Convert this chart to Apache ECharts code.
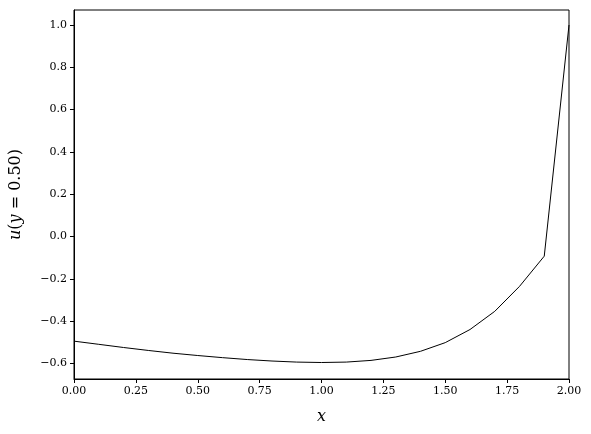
<!DOCTYPE html>
<html>
<head>
<meta charset="utf-8">
<script src="https://cdn.jsdelivr.net/npm/echarts@6/dist/echarts.min.js"></script>
<style>
  html, body { margin: 0; padding: 0; background: #fff; }
  #chart { width: 591px; height: 434px; }
</style>
</head>
<body>
<div id="chart"></div>
<script>
// sample positions along x and the profile values u(x, y=0.50)
const xs = [0.0, 0.1, 0.2, 0.3, 0.4, 0.5, 0.6, 0.7, 0.8, 0.9, 1.0,
            1.1, 1.2, 1.3, 1.4, 1.5, 1.6, 1.7, 1.8, 1.9, 2.0]
const uValues = [-0.495, -0.510, -0.525, -0.539, -0.552, -0.563, -0.573, -0.582, -0.589, -0.594, -0.596,
                 -0.594, -0.586, -0.570, -0.543, -0.502, -0.440, -0.354, -0.236, -0.093, 1.0]
const yTicks = [-0.6, -0.4, -0.2, 0.0, 0.2, 0.4, 0.6, 0.8, 1.0]

const font = 'DejaVu Serif'
const fmtY = (v) => (v < 0 ? '\u2212' : '') + Math.abs(v).toFixed(1)

const myChart = echarts.init(document.getElementById('chart'), null, { renderer: 'canvas' })

myChart.setOption({
  animation: false,
  grid: {
    left: 73,
    top: 10,
    width: 496,
    height: 369,
    show: true,
    borderColor: '#000',
    borderWidth: 1,
    backgroundColor: 'transparent',
  },
  xAxis: {
    type: 'value',
    min: 0,
    max: 2,
    interval: 0.25,
    name: 'x',
    nameLocation: 'middle',
    nameGap: 30,
    nameTextStyle: { fontFamily: font, fontStyle: 'italic', fontSize: 16, color: '#000' },
    axisLine: { show: true, onZero: false, lineStyle: { color: '#000', width: 1 } },
    axisTick: { show: true, inside: false, length: 4, lineStyle: { color: '#000' } },
    axisLabel: {
      fontFamily: font,
      fontSize: 11,
      color: '#000',
      margin: 7,
      formatter: (v) => v.toFixed(2),
    },
    splitLine: { show: false },
  },
  yAxis: {
    type: 'value',
    min: -0.674,
    max: 1.071,
    name: '{i|u}({i|y} = 0.50)',
    nameLocation: 'middle',
    nameGap: 50,
    nameTextStyle: {
      fontFamily: font,
      fontSize: 16,
      color: '#000',
      rich: {
        i: { fontFamily: font, fontStyle: 'italic', fontSize: 16, color: '#000' },
      },
    },
    axisLine: { show: true, onZero: false, lineStyle: { color: '#000', width: 1 } },
    axisTick: {
      show: true,
      inside: false,
      length: 4,
      lineStyle: { color: '#000' },
      customValues: yTicks,
    },
    axisLabel: {
      fontFamily: font,
      fontSize: 11,
      color: '#000',
      margin: 7,
      customValues: yTicks,
      formatter: fmtY,
    },
    splitLine: { show: false },
  },
  series: [
    {
      type: 'line',
      data: xs.map((x, i) => [x, uValues[i]]),
      showSymbol: false,
      symbol: 'none',
      lineStyle: { color: '#000', width: 1 },
      silent: true,
    },
  ],
})
</script>
</body>
</html>
